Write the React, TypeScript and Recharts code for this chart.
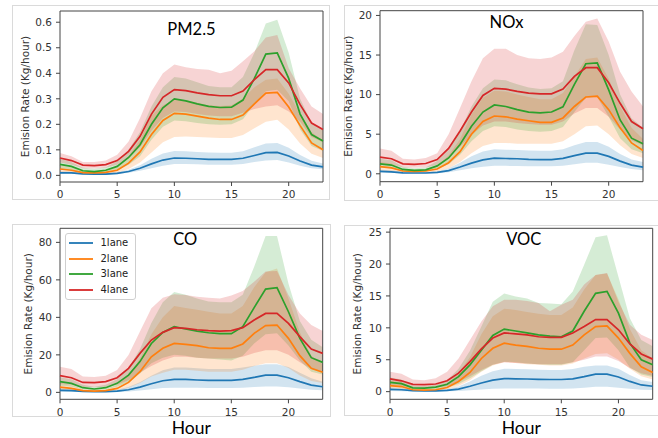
import React from 'react';
import { ComposedChart, Line, Area, XAxis, YAxis, ReferenceArea, Legend } from 'recharts';

const HOURS = [0, 1, 2, 3, 4, 5, 6, 7, 8, 9, 10, 11, 12, 13, 14, 15, 16, 17, 18, 19, 20, 21, 22, 23];
const LANES = ['1lane', '2lane', '3lane', '4lane'];
const COLORS = ['#1f77b4', '#ff7f0e', '#2ca02c', '#d62728'];
const X_TICKS = [0, 5, 10, 15, 20];

// PM2.5
const PM_MEAN_1 = [0.010,0.010,0.006,0.005,0.005,0.008,0.015,0.028,0.045,0.060,0.068,0.067,0.065,0.063,0.063,0.063,0.067,0.078,0.089,0.090,0.076,0.056,0.040,0.033];
const PM_LO_1 = [0.006,0.006,0.003,0.003,0.003,0.005,0.010,0.018,0.028,0.038,0.045,0.045,0.044,0.042,0.042,0.042,0.045,0.052,0.058,0.060,0.050,0.038,0.028,0.024];
const PM_HI_1 = [0.016,0.015,0.010,0.009,0.009,0.013,0.022,0.040,0.065,0.086,0.095,0.094,0.092,0.090,0.089,0.089,0.094,0.110,0.125,0.127,0.108,0.080,0.057,0.046];
const PM_MEAN_2 = [0.025,0.020,0.011,0.010,0.012,0.020,0.048,0.092,0.160,0.215,0.243,0.240,0.232,0.224,0.219,0.219,0.236,0.280,0.322,0.325,0.268,0.195,0.127,0.100];
const PM_LO_2 = [0.012,0.010,0.005,0.005,0.006,0.010,0.025,0.050,0.090,0.130,0.150,0.152,0.150,0.148,0.146,0.146,0.158,0.185,0.210,0.218,0.180,0.125,0.085,0.068];
const PM_HI_2 = [0.040,0.032,0.018,0.017,0.020,0.032,0.075,0.140,0.235,0.275,0.295,0.295,0.285,0.275,0.272,0.275,0.300,0.345,0.375,0.380,0.320,0.240,0.170,0.135];
const PM_MEAN_3 = [0.043,0.035,0.018,0.015,0.020,0.035,0.070,0.120,0.200,0.265,0.300,0.292,0.280,0.270,0.266,0.267,0.295,0.380,0.475,0.480,0.380,0.240,0.160,0.135];
const PM_LO_3 = [0.025,0.020,0.010,0.008,0.010,0.020,0.042,0.075,0.140,0.190,0.215,0.212,0.205,0.200,0.198,0.200,0.220,0.280,0.330,0.335,0.290,0.180,0.115,0.095];
const PM_HI_3 = [0.065,0.052,0.030,0.026,0.032,0.055,0.100,0.170,0.270,0.345,0.385,0.380,0.365,0.350,0.345,0.345,0.385,0.480,0.595,0.610,0.480,0.300,0.205,0.178];
const PM_MEAN_4 = [0.068,0.058,0.040,0.038,0.042,0.058,0.094,0.153,0.240,0.306,0.336,0.332,0.323,0.316,0.312,0.312,0.330,0.375,0.414,0.414,0.362,0.277,0.205,0.180];
const PM_LO_4 = [0.050,0.042,0.028,0.027,0.030,0.042,0.068,0.110,0.175,0.225,0.250,0.248,0.240,0.235,0.232,0.232,0.245,0.260,0.270,0.275,0.250,0.210,0.150,0.130];
const PM_HI_4 = [0.088,0.075,0.052,0.052,0.058,0.081,0.133,0.225,0.330,0.400,0.434,0.424,0.417,0.414,0.400,0.410,0.447,0.486,0.540,0.550,0.420,0.340,0.270,0.240];
const PM_TICKS = [0, 0.1, 0.2, 0.3, 0.4, 0.5, 0.6];

// NOx
const NOX_MEAN_1 = [0.30,0.25,0.12,0.10,0.10,0.17,0.40,0.85,1.35,1.75,1.97,1.93,1.90,1.82,1.80,1.80,1.95,2.30,2.60,2.60,2.20,1.60,1.10,0.85];
const NOX_LO_1 = [0.15,0.12,0.05,0.05,0.05,0.08,0.20,0.45,0.70,0.90,1.00,1.00,0.98,0.95,0.95,0.95,1.00,1.20,1.40,1.40,1.15,0.85,0.60,0.45];
const NOX_HI_1 = [0.50,0.45,0.22,0.20,0.20,0.30,0.70,1.40,2.20,2.80,3.10,3.05,3.00,2.95,2.90,2.90,3.10,3.60,4.00,4.00,3.40,2.50,1.80,1.50];
const NOX_MEAN_2 = [0.90,0.75,0.35,0.30,0.35,0.60,1.40,2.80,5.00,6.60,7.30,7.20,6.90,6.70,6.50,6.50,7.05,8.50,9.70,9.80,8.10,5.80,3.90,2.95];
const NOX_LO_2 = [0.40,0.35,0.15,0.12,0.15,0.30,0.70,1.50,2.60,3.50,3.90,3.90,3.80,3.80,3.80,3.80,4.10,5.00,6.00,6.10,5.00,3.60,2.50,2.00];
const NOX_HI_2 = [1.50,1.30,0.60,0.50,0.60,1.00,2.30,4.40,7.50,9.60,10.50,10.40,10.00,9.70,9.40,9.40,10.20,12.30,14.50,14.70,12.00,8.50,5.80,4.40];
const NOX_MEAN_3 = [1.26,1.10,0.55,0.42,0.50,1.00,2.00,3.70,6.00,7.80,8.70,8.50,8.10,7.80,7.70,7.80,8.45,11.30,13.90,14.00,10.60,6.80,4.50,3.80];
const NOX_LO_3 = [0.80,0.70,0.30,0.25,0.30,0.60,1.20,2.40,4.10,5.40,6.00,5.90,5.60,5.40,5.30,5.40,5.90,7.80,9.60,9.70,7.20,4.50,3.10,2.60];
const NOX_HI_3 = [1.90,1.70,0.90,0.70,0.80,1.60,3.00,5.40,8.50,10.80,11.90,11.80,11.30,10.90,10.70,10.80,11.70,15.60,18.90,18.80,15.00,10.00,7.00,5.80];
const NOX_MEAN_4 = [2.10,1.90,1.25,1.20,1.30,1.80,3.20,5.40,7.80,9.90,10.80,10.70,10.40,10.20,10.10,10.10,10.70,12.30,13.40,13.40,11.50,8.90,6.60,5.70];
const NOX_LO_4 = [1.30,1.20,0.80,0.75,0.80,1.10,2.00,3.40,4.90,6.10,6.60,6.60,6.40,6.30,6.20,6.20,6.60,7.60,8.30,8.30,7.20,5.60,4.20,3.60];
const NOX_HI_4 = [3.20,2.90,1.90,1.80,2.00,2.60,5.00,8.30,11.70,14.60,15.80,15.80,15.00,14.60,14.50,14.70,15.40,17.40,19.20,19.60,16.70,12.90,10.40,8.50];
const NOX_TICKS = [0, 5, 10, 15, 20];

// CO
const CO_MEAN_1 = [1.1,0.9,0.5,0.4,0.4,0.7,1.4,2.8,4.6,6.2,6.9,6.9,6.6,6.4,6.4,6.4,6.9,8.0,9.2,9.2,7.8,5.7,3.9,3.0];
const CO_LO_1 = [0.40,0.35,0.20,0.15,0.15,0.25,0.50,1.00,1.70,2.30,2.50,2.50,2.40,2.30,2.30,2.30,2.50,2.80,3.10,3.10,2.70,2.00,1.40,1.10];
const CO_HI_1 = [2.2,1.9,1.0,0.8,0.8,1.4,2.8,5.4,8.8,11.8,13.2,13.2,12.8,12.4,12.4,12.4,13.2,14.2,15.0,15.0,13.5,10.5,7.5,5.7];
const CO_MEAN_2 = [2.8,2.1,0.9,0.7,0.9,2.1,5.3,11.0,19.0,23.5,26.1,25.6,24.9,23.8,23.5,23.5,25.8,31.5,35.6,35.9,28.8,19.6,12.8,10.7];
const CO_LO_2 = [1.2,1.0,0.4,0.3,0.4,1.0,2.5,5.0,8.5,10.5,12.0,12.0,11.5,11.0,11.0,11.0,12.0,14.0,15.5,15.5,13.0,9.0,6.0,5.0];
const CO_HI_2 = [5.0,4.0,1.8,1.5,1.8,4.0,9.0,18.0,31.0,40.0,46.0,45.0,44.0,43.0,42.0,42.0,46.0,56.0,64.0,66.0,50.0,32.0,19.5,15.0];
const CO_MEAN_3 = [5.7,4.8,2.5,1.8,2.5,4.8,9.2,16.4,26.1,32.0,35.0,33.8,32.7,31.8,31.3,31.3,35.0,45.2,55.1,55.8,43.0,28.8,18.5,16.0];
const CO_LO_3 = [3.5,3.0,1.5,1.1,1.5,3.0,5.5,10.0,15.5,18.5,20.0,19.5,18.5,18.0,17.5,17.0,19.5,26.0,31.0,31.5,25.0,17.0,11.0,9.5];
const CO_HI_3 = [8.0,7.0,4.0,3.0,4.0,7.0,13.0,23.0,37.0,48.0,53.5,52.0,50.0,48.5,48.0,48.0,52.0,67.0,83.4,83.4,58.0,38.0,28.0,24.0];
const CO_MEAN_4 = [8.9,7.8,5.3,5.2,5.7,7.8,12.8,20.8,27.9,32.0,34.5,34.1,33.4,32.9,32.7,32.9,34.5,38.6,42.1,42.1,36.8,29.7,23.1,20.8];
const CO_LO_4 = [4.5,4.0,2.8,2.7,3.0,4.0,6.5,10.5,14.0,17.0,19.0,19.0,18.5,18.0,18.0,18.0,19.0,21.0,22.5,22.5,20.0,16.0,12.5,11.0];
const CO_HI_4 = [13.7,12.4,8.4,8.2,8.9,11.9,19.9,32.4,44.8,50.5,52.3,51.9,51.0,50.5,50.1,51.6,54.0,59.0,64.4,64.7,51.9,42.1,35.9,32.7];
const CO_TICKS = [0, 20, 40, 60, 80];

// VOC
const VOC_MEAN_1 = [0.35,0.30,0.15,0.12,0.12,0.20,0.40,0.85,1.35,1.80,2.05,2.00,1.98,1.93,1.90,1.90,2.00,2.35,2.75,2.75,2.30,1.60,1.05,0.85];
const VOC_LO_1 = [0.10,0.08,0.04,0.03,0.03,0.05,0.10,0.22,0.35,0.45,0.50,0.50,0.50,0.48,0.47,0.47,0.50,0.60,0.75,0.75,0.62,0.45,0.30,0.25];
const VOC_HI_1 = [0.70,0.60,0.30,0.25,0.25,0.40,0.80,1.60,2.50,3.20,3.60,3.55,3.50,3.45,3.40,3.40,3.55,3.90,4.10,4.10,3.60,2.60,1.80,1.50];
const VOC_MEAN_2 = [0.95,0.80,0.30,0.25,0.30,0.65,1.60,3.00,5.20,6.80,7.60,7.30,7.10,6.80,6.65,6.65,7.30,8.90,10.20,10.30,8.40,6.00,3.90,3.00];
const VOC_LO_2 = [0.50,0.45,0.15,0.12,0.15,0.35,0.90,1.80,3.10,4.10,4.60,4.50,4.30,4.20,4.10,4.10,4.40,5.20,5.90,6.00,5.00,3.60,2.40,1.90];
const VOC_HI_2 = [1.70,1.50,0.60,0.50,0.60,1.20,2.90,5.40,9.00,11.80,13.00,12.80,12.50,12.20,12.00,12.00,13.20,16.00,18.30,18.50,14.50,9.80,6.50,5.20];
const VOC_MEAN_3 = [1.45,1.25,0.60,0.55,0.70,1.15,2.35,4.20,6.50,8.80,9.80,9.50,9.20,8.90,8.70,8.60,9.50,12.60,15.40,15.70,12.30,7.60,5.00,4.20];
const VOC_LO_3 = [0.80,0.70,0.30,0.30,0.35,0.60,1.20,2.10,3.20,4.20,4.70,4.60,4.40,4.30,4.20,4.20,4.60,6.50,8.40,8.50,6.50,3.80,2.70,2.30];
const VOC_HI_3 = [2.20,1.90,0.95,0.90,1.10,1.80,3.60,6.40,10.20,14.10,15.40,14.90,14.60,13.90,13.80,13.70,15.70,19.90,24.20,24.50,18.00,11.50,8.10,7.10];
const VOC_MEAN_4 = [2.00,1.70,1.15,1.10,1.20,1.70,2.90,4.70,6.70,8.40,9.20,9.05,8.90,8.60,8.50,8.50,9.20,10.20,11.30,11.30,9.70,7.50,5.90,5.10];
const VOC_LO_4 = [1.10,0.90,0.60,0.60,0.65,0.90,1.50,2.40,3.40,4.20,4.60,4.50,4.40,4.30,4.30,4.30,4.60,5.00,5.50,5.50,4.80,3.70,2.90,2.50];
const VOC_HI_4 = [3.10,2.80,1.90,1.80,2.10,3.10,5.20,8.10,11.00,13.40,14.40,14.40,14.20,13.90,12.60,13.60,14.40,16.80,18.30,18.60,14.10,10.50,8.90,8.10];
const VOC_TICKS = [0, 5, 10, 15, 20, 25];

type Series = { mean: number[]; lo: number[]; hi: number[] };

function buildRows(series: Series[]) {
  return HOURS.map((h, i) => {
    const row: any = { h };
    series.forEach((s, k) => {
      row['m' + k] = s.mean[i];
      row['b' + k] = [s.lo[i], s.hi[i]];
    });
    return row;
  });
}

const TICK_STYLE = { fontFamily: 'DejaVu Sans', fontSize: 10.5, fill: '#333' };
const AXIS_COLOR = '#444';

function LegendBox(props: any) {
  const items = (props.payload || []).filter((p: any) => p.type !== 'none');
  return (
    <div
      style={{
        border: '1px solid #cfcfcf',
        borderRadius: 3,
        background: '#fff',
        padding: '1.5px 7px 1.5px 2.5px',
        fontFamily: 'DejaVu Sans',
        fontSize: 10,
        color: '#222',
      }}
    >
      {items.map((p: any) => (
        <div key={p.value} style={{ display: 'flex', alignItems: 'center', height: 15.7 }}>
          <svg width={24} height={4} style={{ display: 'block' }}>
            <line x1={0} y1={2} x2={24} y2={2} stroke={p.color} strokeWidth={1.8} />
          </svg>
          <span style={{ marginLeft: 8, lineHeight: '12px' }}>{p.value}</span>
        </div>
      ))}
    </div>
  );
}

type PanelProps = {
  series: Series[];
  left: number;
  top: number;
  width: number;
  height: number;
  marginTop: number;
  marginRight: number;
  yWidth: number;
  xHeight: number;
  domain: [number, number];
  ticks: number[];
  decimals: number;
  labelX: number;
  showLegend?: boolean;
  showHour?: boolean;
};

function Panel(p: PanelProps) {
  const rows = buildRows(p.series);
  return (
    <div style={{ position: 'absolute', left: p.left, top: p.top, width: p.width, height: p.height }}>
      <ComposedChart
        width={p.width}
        height={p.height}
        data={rows}
        margin={{ top: p.marginTop, right: p.marginRight, left: 0, bottom: 0 }}
      >
        <XAxis
          dataKey="h"
          type="number"
          domain={[0, 23]}
          ticks={X_TICKS}
          height={p.xHeight}
          axisLine={false}
          tickSize={4}
          tickMargin={5}
          tickLine={{ stroke: AXIS_COLOR }}
          tick={TICK_STYLE}
          interval={0}
          label={
            p.showHour
              ? { value: 'Hour', position: 'insideBottom', offset: 4, style: { fontFamily: 'Lato', fontSize: 17.5, fill: '#000' } }
              : undefined
          }
        />
        <YAxis
          type="number"
          domain={p.domain}
          ticks={p.ticks}
          allowDataOverflow
          width={p.yWidth}
          axisLine={false}
          tickSize={4}
          tickMargin={4}
          tickLine={{ stroke: AXIS_COLOR }}
          tick={TICK_STYLE}
          interval={0}
          tickFormatter={(v: number) => v.toFixed(p.decimals)}
          label={{
            value: 'Emision Rate (Kg/hour)',
            angle: -90,
            position: 'insideLeft',
            offset: p.labelX,
            style: { textAnchor: 'middle', fontFamily: 'DejaVu Sans', fontSize: 10.5, fill: '#333' },
          }}
        />
        {p.series.map((_, k) => (
          <Area
            key={'a' + k}
            type="linear"
            dataKey={'b' + k}
            stroke="none"
            fill={COLORS[k]}
            fillOpacity={0.2}
            isAnimationActive={false}
            legendType="none"
            dot={false}
            activeDot={false}
          />
        ))}
        {p.series.map((_, k) => (
          <Line
            key={'l' + k}
            type="linear"
            dataKey={'m' + k}
            name={LANES[k]}
            stroke={COLORS[k]}
            strokeWidth={1.7}
            dot={false}
            activeDot={false}
            isAnimationActive={false}
          />
        ))}
        <ReferenceArea
          x1={0}
          x2={23}
          y1={p.domain[0]}
          y2={p.domain[1]}
          fill="none"
          fillOpacity={0}
          stroke={AXIS_COLOR}
          strokeWidth={1}
          ifOverflow="visible"
        />
        {p.showLegend ? (
          <Legend
            layout="vertical"
            align="center"
            verticalAlign="middle"
            wrapperStyle={{ left: 65, top: 22.5, width: 'auto' }}
            content={LegendBox}
          />
        ) : null}
      </ComposedChart>
    </div>
  );
}

const PM_SERIES: Series[] = [
  { mean: PM_MEAN_1, lo: PM_LO_1, hi: PM_HI_1 },
  { mean: PM_MEAN_2, lo: PM_LO_2, hi: PM_HI_2 },
  { mean: PM_MEAN_3, lo: PM_LO_3, hi: PM_HI_3 },
  { mean: PM_MEAN_4, lo: PM_LO_4, hi: PM_HI_4 },
];
const NOX_SERIES: Series[] = [
  { mean: NOX_MEAN_1, lo: NOX_LO_1, hi: NOX_HI_1 },
  { mean: NOX_MEAN_2, lo: NOX_LO_2, hi: NOX_HI_2 },
  { mean: NOX_MEAN_3, lo: NOX_LO_3, hi: NOX_HI_3 },
  { mean: NOX_MEAN_4, lo: NOX_LO_4, hi: NOX_HI_4 },
];
const CO_SERIES: Series[] = [
  { mean: CO_MEAN_1, lo: CO_LO_1, hi: CO_HI_1 },
  { mean: CO_MEAN_2, lo: CO_LO_2, hi: CO_HI_2 },
  { mean: CO_MEAN_3, lo: CO_LO_3, hi: CO_HI_3 },
  { mean: CO_MEAN_4, lo: CO_LO_4, hi: CO_HI_4 },
];
const VOC_SERIES: Series[] = [
  { mean: VOC_MEAN_1, lo: VOC_LO_1, hi: VOC_HI_1 },
  { mean: VOC_MEAN_2, lo: VOC_LO_2, hi: VOC_HI_2 },
  { mean: VOC_MEAN_3, lo: VOC_LO_3, hi: VOC_HI_3 },
  { mean: VOC_MEAN_4, lo: VOC_LO_4, hi: VOC_HI_4 },
];

const frame = (left: number, top: number, width: number, height: number): React.CSSProperties => ({
  position: 'absolute',
  left,
  top,
  width,
  height,
  border: '1px solid #dadada',
  boxSizing: 'border-box',
});

export default function App() {
  return (
    <div
      style={{
        position: 'absolute',
        left: 0,
        top: 0,
        width: 658,
        height: 438,
        background: '#fff',
        overflow: 'hidden',
      }}
    >
      <div style={frame(12, 5, 318, 195)} />
      <div style={frame(344, 5, 330, 196)} />
      <div style={frame(12, 224, 319, 193)} />
      <div style={frame(344, 225, 330, 191)} />

      <Panel
        series={PM_SERIES}
        left={0}
        top={0}
        width={330}
        height={200}
        marginTop={11}
        marginRight={7}
        yWidth={60}
        xHeight={18}
        domain={[-0.026, 0.644]}
        ticks={PM_TICKS}
        decimals={1}
        labelX={25}
      />
      <Panel
        series={NOX_SERIES}
        left={330}
        top={0}
        width={328}
        height={200}
        marginTop={10.7}
        marginRight={15}
        yWidth={50}
        xHeight={18.3}
        domain={[-1.0, 20.6]}
        ticks={NOX_TICKS}
        decimals={0}
        labelX={18}
      />
      <Panel
        series={CO_SERIES}
        left={0}
        top={210}
        width={330}
        height={228}
        marginTop={18.3}
        marginRight={7.3}
        yWidth={60}
        xHeight={38.7}
        domain={[-3.7, 87.5]}
        ticks={CO_TICKS}
        decimals={0}
        labelX={28}
        showLegend
        showHour
      />
      <Panel
        series={VOC_SERIES}
        left={330}
        top={210}
        width={328}
        height={228}
        marginTop={18.3}
        marginRight={5.3}
        yWidth={60}
        xHeight={38.7}
        domain={[-1.2, 25.6]}
        ticks={VOC_TICKS}
        decimals={0}
        labelX={27.5}
        showHour
      />

      <svg
        width={658}
        height={438}
        style={{ position: 'absolute', left: 0, top: 0, pointerEvents: 'none' }}
      >
        <text x={191.5} y={35.3} textAnchor="middle" fontFamily="Lato" fontSize={16.5} fill="#000">PM2.5</text>
        <text x={506.5} y={28.2} textAnchor="middle" fontFamily="Lato" fontSize={16.5} fill="#000">NOx</text>
        <text x={185.3} y={245} textAnchor="middle" fontFamily="Lato" fontSize={16.5} fill="#000">CO</text>
        <text x={523.7} y={245} textAnchor="middle" fontFamily="Lato" fontSize={16.5} fill="#000">VOC</text>
      </svg>
    </div>
  );
}
